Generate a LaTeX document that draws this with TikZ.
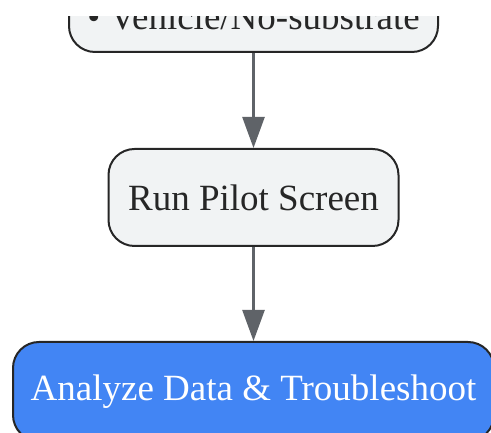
\documentclass[tikz,border=0pt]{standalone}
\usepackage{fontspec}
\setmainfont{Liberation Serif}
\usetikzlibrary{arrows.meta,positioning}

\definecolor{boxgray}{HTML}{F1F3F4}
\definecolor{boxblue}{HTML}{4285F4}
\definecolor{linegray}{HTML}{5F6368}

\begin{document}
\begin{tikzpicture}[
    x=1pt, y=1pt,
    node distance=94pt,
    stepbox/.style={rectangle, draw=black!85, line width=2pt, rounded corners=26pt,
                fill=boxgray, text=black!85, font=\fontsize{37}{44}\selectfont,
                minimum height=97pt, align=center},
    endbox/.style={stepbox, fill=boxblue, text=white, minimum height=99pt},
    arrow/.style={-{Triangle[length=31pt, width=22pt]}, line width=2.5pt, draw=linegray}
]

\useasboundingbox (0,0) rectangle (491,433);
\clip (0,0) rectangle (491,416);

% Preparation box, only its lower part is visible
\node[stepbox, anchor=south, minimum width=369pt, inner ysep=0pt,
      text height=60pt, text depth=7pt] (prep) at (253.5,380) {\textbullet{} Vehicle/No-substrate};

% Pilot screen
\node[stepbox, below=95pt of prep, minimum width=290pt] (pilot) {Run Pilot Screen};

% Final step
\node[endbox, below=of pilot, minimum width=481pt] (analyze) {Analyze Data \& Troubleshoot};

% Arrows
\draw[arrow] (prep) -- (pilot);
\draw[arrow] (pilot) -- (analyze);

\end{tikzpicture}
\end{document}
